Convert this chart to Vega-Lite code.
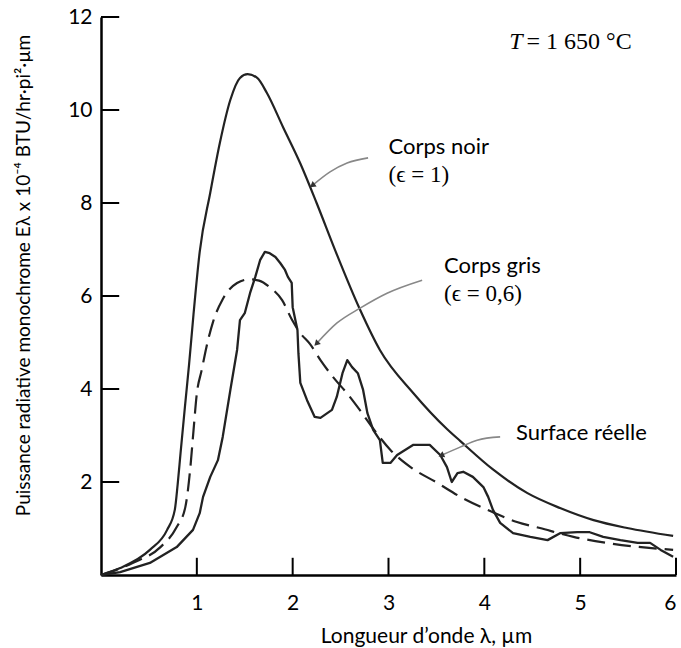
{
  "$schema": "https://vega.github.io/schema/vega-lite/v6.json",
  "width": 575,
  "height": 558,
  "autosize": {"type": "none"},
  "padding": {"left": 101, "top": 17, "right": 5, "bottom": 73},
  "background": "white",
  "config": {
    "view": {"stroke": null},
    "axis": {
      "grid": false,
      "ticks": false,
      "domainColor": "black",
      "domainWidth": 2.5,
      "labelColor": "black",
      "labelFont": "Lato",
      "labelFontSize": 21,
      "titleFont": "Lato",
      "titleFontWeight": "normal",
      "titleColor": "black"
    }
  },
  "datasets": {
    "noir": [
      {"x": 0, "y": 0}, {"x": 0.2, "y": 0.15}, {"x": 0.51, "y": 0.54}, {"x": 0.69, "y": 0.97},
      {"x": 0.77, "y": 1.4}, {"x": 0.8, "y": 1.95}, {"x": 0.83, "y": 2.62}, {"x": 0.875, "y": 3.6},
      {"x": 0.92, "y": 4.55}, {"x": 0.965, "y": 5.6}, {"x": 1.03, "y": 6.95}, {"x": 1.14, "y": 8.22},
      {"x": 1.24, "y": 9.29}, {"x": 1.35, "y": 10.22}, {"x": 1.45, "y": 10.69}, {"x": 1.53, "y": 10.77},
      {"x": 1.63, "y": 10.69}, {"x": 1.73, "y": 10.37}, {"x": 1.9, "y": 9.63}, {"x": 2.08, "y": 8.85},
      {"x": 2.25, "y": 8.0}, {"x": 2.45, "y": 6.95}, {"x": 2.7, "y": 5.72}, {"x": 2.91, "y": 4.84},
      {"x": 3.26, "y": 3.91}, {"x": 3.61, "y": 3.14}, {"x": 3.75, "y": 2.88}, {"x": 4.09, "y": 2.27},
      {"x": 4.45, "y": 1.76}, {"x": 4.79, "y": 1.44}, {"x": 5.14, "y": 1.18}, {"x": 5.49, "y": 1.01},
      {"x": 5.97, "y": 0.84}
    ],
    "gris": [
      {"x": 0, "y": 0}, {"x": 0.33, "y": 0.26}, {"x": 0.62, "y": 0.6}, {"x": 0.79, "y": 1.03},
      {"x": 0.88, "y": 1.46}, {"x": 0.93, "y": 2.26}, {"x": 0.965, "y": 3.1}, {"x": 1.0, "y": 3.9},
      {"x": 1.05, "y": 4.4}, {"x": 1.1, "y": 4.9}, {"x": 1.17, "y": 5.45}, {"x": 1.27, "y": 5.93},
      {"x": 1.42, "y": 6.28}, {"x": 1.55, "y": 6.36}, {"x": 1.65, "y": 6.33}, {"x": 1.76, "y": 6.19},
      {"x": 1.89, "y": 5.91}, {"x": 1.99, "y": 5.5}, {"x": 2.08, "y": 5.2}, {"x": 2.18, "y": 4.97},
      {"x": 2.29, "y": 4.62}, {"x": 2.42, "y": 4.26}, {"x": 2.57, "y": 3.9}, {"x": 2.7, "y": 3.55},
      {"x": 2.84, "y": 3.15}, {"x": 3.02, "y": 2.69}, {"x": 3.23, "y": 2.32}, {"x": 3.51, "y": 1.98},
      {"x": 3.75, "y": 1.68}, {"x": 4.09, "y": 1.35}, {"x": 4.34, "y": 1.14}, {"x": 4.58, "y": 1.01},
      {"x": 4.93, "y": 0.82}, {"x": 5.28, "y": 0.69}, {"x": 5.97, "y": 0.54}
    ],
    "reelle": [
      {"x": 0, "y": 0}, {"x": 0.2, "y": 0.06}, {"x": 0.51, "y": 0.26}, {"x": 0.79, "y": 0.6},
      {"x": 0.96, "y": 0.97}, {"x": 1.03, "y": 1.33}, {"x": 1.065, "y": 1.68}, {"x": 1.14, "y": 2.11},
      {"x": 1.22, "y": 2.47}, {"x": 1.27, "y": 2.97}, {"x": 1.35, "y": 3.98}, {"x": 1.42, "y": 4.84},
      {"x": 1.45, "y": 5.48}, {"x": 1.5, "y": 5.63}, {"x": 1.555, "y": 6.06}, {"x": 1.61, "y": 6.41},
      {"x": 1.66, "y": 6.77}, {"x": 1.71, "y": 6.95}, {"x": 1.76, "y": 6.92}, {"x": 1.82, "y": 6.84},
      {"x": 1.87, "y": 6.71}, {"x": 1.92, "y": 6.56}, {"x": 1.95, "y": 6.41}, {"x": 1.99, "y": 6.28},
      {"x": 2.0, "y": 5.76}, {"x": 2.05, "y": 5.27}, {"x": 2.06, "y": 4.77}, {"x": 2.08, "y": 4.13},
      {"x": 2.15, "y": 3.76}, {"x": 2.23, "y": 3.4}, {"x": 2.29, "y": 3.38}, {"x": 2.41, "y": 3.55},
      {"x": 2.46, "y": 3.83}, {"x": 2.52, "y": 4.34}, {"x": 2.57, "y": 4.62}, {"x": 2.62, "y": 4.47},
      {"x": 2.68, "y": 4.34}, {"x": 2.735, "y": 3.98}, {"x": 2.78, "y": 3.48}, {"x": 2.84, "y": 3.12},
      {"x": 2.91, "y": 2.9}, {"x": 2.94, "y": 2.41}, {"x": 3.02, "y": 2.41}, {"x": 3.09, "y": 2.58},
      {"x": 3.26, "y": 2.8}, {"x": 3.43, "y": 2.8}, {"x": 3.54, "y": 2.58}, {"x": 3.61, "y": 2.32},
      {"x": 3.66, "y": 2.0}, {"x": 3.72, "y": 2.19}, {"x": 3.78, "y": 2.22}, {"x": 3.88, "y": 2.11},
      {"x": 3.99, "y": 1.89}, {"x": 4.04, "y": 1.68}, {"x": 4.09, "y": 1.4}, {"x": 4.165, "y": 1.12},
      {"x": 4.3, "y": 0.9}, {"x": 4.48, "y": 0.82}, {"x": 4.66, "y": 0.75}, {"x": 4.79, "y": 0.9},
      {"x": 4.97, "y": 0.92}, {"x": 5.1, "y": 0.92}, {"x": 5.24, "y": 0.82}, {"x": 5.42, "y": 0.75},
      {"x": 5.6, "y": 0.69}, {"x": 5.73, "y": 0.69}, {"x": 5.84, "y": 0.54}, {"x": 5.97, "y": 0.39}
    ],
    "arrows": [
      {"arrow": "noir", "x": 2.787, "y": 8.97}, {"arrow": "noir", "x": 2.568, "y": 8.86},
      {"arrow": "noir", "x": 2.39, "y": 8.67}, {"arrow": "noir", "x": 2.213, "y": 8.39},
      {"arrow": "gris", "x": 3.351, "y": 6.34}, {"arrow": "gris", "x": 2.985, "y": 6.06},
      {"arrow": "gris", "x": 2.704, "y": 5.74}, {"arrow": "gris", "x": 2.463, "y": 5.42},
      {"arrow": "gris", "x": 2.255, "y": 4.99},
      {"arrow": "reelle", "x": 4.165, "y": 2.97}, {"arrow": "reelle", "x": 3.925, "y": 2.9},
      {"arrow": "reelle", "x": 3.747, "y": 2.75}, {"arrow": "reelle", "x": 3.559, "y": 2.58}
    ],
    "xticks": [{"xt": 1}, {"xt": 2}, {"xt": 3}, {"xt": 4}, {"xt": 5}, {"xt": 6}],
    "yticks": [{"yt": 2}, {"yt": 4}, {"yt": 6}, {"yt": 8}, {"yt": 10}, {"yt": 12}]
  },
  "layer": [
    {
      "data": {"name": "noir"},
      "mark": {"type": "line", "color": "#222", "strokeWidth": 2.2, "interpolate": "monotone"},
      "encoding": {
        "x": {"field": "x", "type": "quantitative",
          "scale": {"domain": [0, 6], "nice": false, "zero": false},
          "axis": {"values": [1, 2, 3, 4, 5, 6], "format": "d", "labelPadding": 17,
            "title": "Longueur d\u2019onde \u03bb, \u00b5m", "titleFontSize": 21,
            "titleX": 325, "titleY": 67, "titleBaseline": "alphabetic", "titleAnchor": null}},
        "y": {"field": "y", "type": "quantitative",
          "scale": {"domain": [0, 12], "nice": false},
          "axis": {"values": [2, 4, 6, 8, 10, 12], "format": "d", "labelPadding": 9,
            "title": "Puissance radiative monochrome E\u03bb x 10\u207b\u2074 BTU/hr\u00b7pi\u00b2\u00b7\u00b5m",
            "titleFontSize": 19, "titleX": -78, "titleY": 258, "titleAngle": -90,
            "titleBaseline": "middle", "titleAlign": "center"}}
      }
    },
    {
      "data": {"name": "xticks"},
      "mark": {"type": "rule", "color": "black", "strokeWidth": 2},
      "encoding": {"x": {"field": "xt", "type": "quantitative"}, "y": {"datum": 0, "type": "quantitative"}, "y2": {"datum": 0.37}}
    },
    {
      "data": {"name": "yticks"},
      "mark": {"type": "rule", "color": "black", "strokeWidth": 2},
      "encoding": {"y": {"field": "yt", "type": "quantitative"}, "x": {"datum": 0, "type": "quantitative"}, "x2": {"datum": 0.19}}
    },
    {
      "data": {"name": "gris"},
      "mark": {"type": "line", "color": "#222", "strokeWidth": 2.2, "interpolate": "monotone", "strokeDash": [18, 8]},
      "encoding": {"x": {"field": "x", "type": "quantitative"}, "y": {"field": "y", "type": "quantitative"}}
    },
    {
      "data": {"name": "reelle"},
      "mark": {"type": "line", "color": "#222", "strokeWidth": 2.3, "strokeJoin": "round"},
      "encoding": {"x": {"field": "x", "type": "quantitative"}, "y": {"field": "y", "type": "quantitative"}}
    },
    {
      "data": {"name": "arrows"},
      "mark": {"type": "line", "color": "#888", "strokeWidth": 1.6, "interpolate": "monotone"},
      "encoding": {"x": {"field": "x", "type": "quantitative"}, "y": {"field": "y", "type": "quantitative"}, "detail": {"field": "arrow"}}
    },
    {
      "data": {"values": [{"x": 2.213, "y": 8.39}]},
      "mark": {"type": "point", "shape": "triangle", "filled": true, "color": "#333", "size": 45, "angle": 233, "opacity": 1},
      "encoding": {"x": {"field": "x", "type": "quantitative"}, "y": {"field": "y", "type": "quantitative"}}
    },
    {
      "data": {"values": [{"x": 2.255, "y": 4.99}]},
      "mark": {"type": "point", "shape": "triangle", "filled": true, "color": "#333", "size": 45, "angle": 225, "opacity": 1},
      "encoding": {"x": {"field": "x", "type": "quantitative"}, "y": {"field": "y", "type": "quantitative"}}
    },
    {
      "data": {"values": [{"x": 3.559, "y": 2.58}]},
      "mark": {"type": "point", "shape": "triangle", "filled": true, "color": "#333", "size": 45, "angle": 246, "opacity": 1},
      "encoding": {"x": {"field": "x", "type": "quantitative"}, "y": {"field": "y", "type": "quantitative"}}
    },
    {
      "data": {"values": [
        {"x": 3.0, "y": 9.2, "label": "Corps noir"},
        {"x": 3.58, "y": 6.65, "label": "Corps gris"},
        {"x": 4.33, "y": 3.05, "label": "Surface r\u00e9elle"}
      ]},
      "mark": {"type": "text", "align": "left", "baseline": "middle", "font": "Lato", "fontSize": 22, "color": "black"},
      "encoding": {"x": {"field": "x", "type": "quantitative"}, "y": {"field": "y", "type": "quantitative"}, "text": {"field": "label"}}
    },
    {
      "data": {"values": [
        {"x": 3.0, "y": 8.6, "label": "(\u03f5 = 1)"},
        {"x": 3.58, "y": 6.05, "label": "(\u03f5 = 0,6)"}
      ]},
      "mark": {"type": "text", "align": "left", "baseline": "middle", "font": "Liberation Serif", "fontSize": 23, "color": "black"},
      "encoding": {"x": {"field": "x", "type": "quantitative"}, "y": {"field": "y", "type": "quantitative"}, "text": {"field": "label"}}
    },
    {
      "data": {"values": [{"x": 4.44, "y": 11.47, "label": "= 1 650 \u00b0C"}]},
      "mark": {"type": "text", "align": "left", "baseline": "middle", "font": "Liberation Serif", "fontSize": 24, "color": "black"},
      "encoding": {"x": {"field": "x", "type": "quantitative"}, "y": {"field": "y", "type": "quantitative"}, "text": {"field": "label"}}
    },
    {
      "data": {"values": [{"x": 4.26, "y": 11.47, "label": "T"}]},
      "mark": {"type": "text", "align": "left", "baseline": "middle", "font": "Liberation Serif", "fontStyle": "italic", "fontSize": 24, "color": "black"},
      "encoding": {"x": {"field": "x", "type": "quantitative"}, "y": {"field": "y", "type": "quantitative"}, "text": {"field": "label"}}
    }
  ]
}
